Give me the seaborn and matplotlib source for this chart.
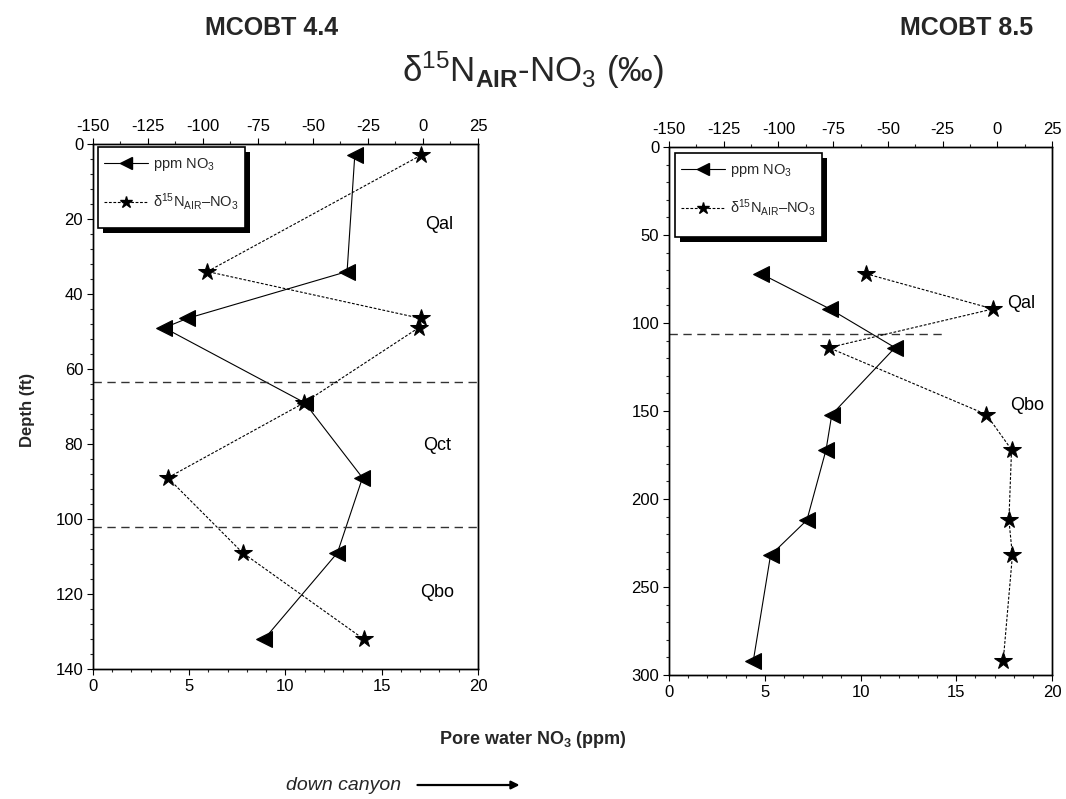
import matplotlib
matplotlib.use("Agg")
import matplotlib.pyplot as plt
from matplotlib.lines import Line2D
from matplotlib.patches import Rectangle
from matplotlib.ticker import MultipleLocator
import seaborn as sns
import pandas as pd

# ---------------- data ----------------
# MCOBT 4.4
depth_44 = [3, 34, 46.5, 49, 69, 89, 109, 132]
ppm_44 = [13.6, 13.2, 4.9, 3.7, 11.0, 14.0, 12.7, 8.9]
d15n_depth_44 = [3, 34, 46.5, 49, 69, 89, 109, 132]
d15n_44 = [-1, -98, -1, -2, -54, -116, -82, -27]
bounds_44 = [63.5, 102]
units_44 = ["Qal", "Qct", "Qbo"]
units_44_pos = [(18.0, 21.5), (17.9, 80.5), (17.9, 119.5)]

# MCOBT 8.5
depth_85 = [72, 92, 114, 152, 172, 212, 232, 292]
ppm_85 = [4.8, 8.4, 11.8, 8.5, 8.2, 7.2, 5.3, 4.4]
d15n_depth_85 = [72, 92, 114, 152, 172, 212, 232, 292]
d15n_85 = [-60, -2, -77, -5, 6.5, 5.3, 6.9, 2.7]
bounds_85 = [106]
units_85 = ["Qal", "Qbo"]
units_85_pos = [(18.4, 89), (18.7, 147)]

ppm_ticks = [0, 5, 10, 15, 20]
d15n_ticks = [-150, -125, -100, -75, -50, -25, 0, 25]

# ---------------- style ----------------
sns.set_theme(style="ticks")
plt.rcParams["font.family"] = ["Liberation Sans", "DejaVu Sans"]
plt.rcParams["mathtext.fontset"] = "custom"
plt.rcParams["mathtext.rm"] = "Liberation Sans"
plt.rcParams["mathtext.it"] = "Liberation Sans:italic"
plt.rcParams["mathtext.bf"] = "Liberation Sans:bold"
plt.rcParams["mathtext.default"] = "regular"
plt.rcParams["axes.unicode_minus"] = False

fig = plt.figure(figsize=(10.66, 7.99), dpi=100)

ax_specs = [
    (fig.add_axes([0.0872, 0.1627, 0.3612, 0.657]), depth_44, ppm_44, d15n_depth_44, d15n_44,
     140, 20, 4, bounds_44, 1.0, units_44, units_44_pos,
     (0.013, 0.84, 0.395, 0.995), 385, 525),
    (fig.add_axes([0.6276, 0.1552, 0.3593, 0.6608]), depth_85, ppm_85, d15n_depth_85, d15n_85,
     300, 50, 10, bounds_85, 0.72, units_85, units_85_pos,
     (0.0157, 0.83, 0.40, 0.989), 383, 528),
]

lab_ppm = "ppm NO$_3$"
lab_d = "δ$^{15}$N$_{AIR}$–NO$_3$"

for (ax, dep, ppm, ddep, dval, ymax, ymaj, ymin, bounds, bx, units, upos,
     box, wpx, hpx) in ax_specs:
    df1 = pd.DataFrame({"ppm": ppm, "depth": dep})
    sns.lineplot(data=df1, x="ppm", y="depth", sort=False, estimator=None, ax=ax,
                 color="black", lw=0.8, marker="<", markersize=11,
                 markeredgecolor="black", markerfacecolor="black")
    for b in bounds:
        ax.axhline(b, xmin=0, xmax=bx, color="#333333", lw=1.0, dashes=(6, 4))
    ax.set_xlim(0, 20)
    ax.set_ylim(ymax, 0)
    ax.set_xticks(ppm_ticks)
    ax.xaxis.set_minor_locator(MultipleLocator(1))
    ax.yaxis.set_major_locator(MultipleLocator(ymaj))
    ax.yaxis.set_minor_locator(MultipleLocator(ymin))
    ax.set_xlabel("")
    ax.set_ylabel("")
    ax.tick_params(axis="both", which="major", direction="out", length=4, width=0.8,
                   labelsize=12, colors="black", pad=3)
    ax.tick_params(axis="both", which="minor", direction="out", length=2.5, width=0.8)
    for s in ax.spines.values():
        s.set_color("black")
        s.set_linewidth(1.0)
    for name, (ux, uy) in zip(units, upos):
        ax.text(ux, uy, name, fontsize=13, ha="center", va="center", color="black")

    ax2 = ax.twiny()
    df2 = pd.DataFrame({"d15n": dval, "depth": ddep})
    sns.lineplot(data=df2, x="d15n", y="depth", sort=False, estimator=None, ax=ax2,
                 color="black", lw=0.8, dashes=False, marker="*", markersize=13,
                 markeredgecolor="black", markerfacecolor="black")
    ax2.lines[0].set_dashes((2.5, 1.5))
    ax2.set_xlim(-150, 25)
    ax2.set_xticks(d15n_ticks)
    ax2.xaxis.set_minor_locator(MultipleLocator(12.5))
    ax2.set_xlabel("")
    ax2.set_ylabel("")
    ax2.tick_params(axis="x", which="major", direction="out", length=4, width=0.8,
                    labelsize=12, colors="black", pad=3)
    ax2.tick_params(axis="x", which="minor", direction="out", length=2.5, width=0.8)
    for s in ax2.spines.values():
        s.set_color("black")
        s.set_linewidth(1.0)

    # legend frame with black drop shadow
    x0, y0, x1, y1 = box
    dx, dy = 5.0 / wpx, 5.0 / hpx
    ax2.add_patch(Rectangle((x0 + dx, y0 - dy), x1 - x0, y1 - y0, transform=ax2.transAxes,
                            facecolor="black", edgecolor="black", lw=0, zorder=20,
                            clip_on=False))
    ax2.add_patch(Rectangle((x0, y0), x1 - x0, y1 - y0, transform=ax2.transAxes,
                            facecolor="white", edgecolor="black", lw=1.2, zorder=21,
                            clip_on=False))

    handles = [
        Line2D([], [], color="black", lw=0.8, marker="<", markersize=8),
        Line2D([], [], color="black", lw=0.8, dashes=(2.5, 1.5), marker="*", markersize=9),
    ]
    leg = ax2.legend(handles, [lab_ppm, lab_d], loc="upper left",
                     bbox_to_anchor=(x0 + 0.002, y1 - 0.008), borderaxespad=0,
                     fontsize=10.5, handlelength=3.0, frameon=False,
                     labelspacing=1.25, borderpad=0.35, handletextpad=0.4)
    leg.set_zorder(22)

# ---------------- figure texts ----------------
fig.text(0.255, 0.965, "MCOBT 4.4", fontsize=18, fontweight="bold", ha="center", va="center")
fig.text(0.907, 0.965, "MCOBT 8.5", fontsize=18, fontweight="bold", ha="center", va="center")
fig.text(0.5, 0.912, "δ$^{15}$N$_{\\mathbf{AIR}}$-NO$_3$ (‰)", fontsize=25,
         ha="center", va="center")
fig.text(0.026, 0.487, "Depth (ft)", fontsize=12, fontweight="bold", rotation=90,
         ha="center", va="center")
fig.text(0.5, 0.074, "Pore water NO$_3$ (ppm)", fontsize=13, fontweight="bold",
         ha="center", va="center")
fig.text(0.376, 0.0175, "down canyon", fontsize=14, style="italic", ha="right", va="center")
fig.add_artist(plt.Annotation("", xy=(0.49, 0.0175), xytext=(0.389, 0.0175),
                              xycoords="figure fraction", textcoords="figure fraction",
                              arrowprops=dict(arrowstyle="-|>", color="black", lw=1.6,
                                              mutation_scale=12)))

fig.savefig("out.png", dpi=100)
